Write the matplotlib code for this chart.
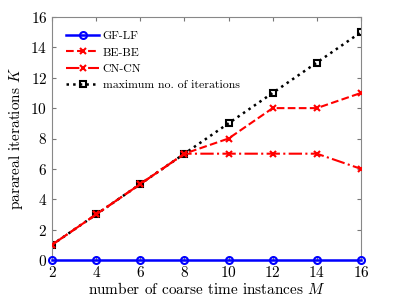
import matplotlib
matplotlib.use("Agg")
import matplotlib.pyplot as plt

plt.rcParams['font.family'] = 'serif'
plt.rcParams['font.serif'] = ['cmr10']
plt.rcParams['mathtext.fontset'] = 'cm'
plt.rcParams['axes.formatter.use_mathtext'] = True

M = [2, 4, 6, 8, 10, 12, 14, 16]
gf_lf = [0, 0, 0, 0, 0, 0, 0, 0]
be_be = [1, 3, 5, 7, 8, 10, 10, 11]
cn_cn = [1, 3, 5, 7, 7, 7, 7, 6]
max_it = [1, 3, 5, 7, 9, 11, 13, 15]

fig = plt.figure(figsize=(3.99, 2.99), dpi=100)
ax = fig.add_axes([52/399, 1 - 260/299, (361-52)/399, (260-17)/299])

ax.plot(M, max_it, ':', color='black', lw=1.8, marker='s', ms=4.5, mfc='none', mew=1.5, label='maximum no. of iterations', zorder=2)
ax.plot(M, cn_cn, '-.', color='red', lw=1.5, marker='x', ms=4, mew=1.5, label='CN-CN', zorder=3)
ax.plot(M, be_be, '--', color='red', lw=1.5, marker='x', ms=4, mew=1.5, label='BE-BE', zorder=3)
ax.plot(M, gf_lf, '-', color='blue', lw=1.8, marker='o', ms=5, mfc='none', mew=1.5, label='GF-LF', zorder=4, clip_on=False)

ax.set_xlim(2, 16)
ax.set_ylim(0, 16)
ax.set_xticks(range(2, 17, 2))
ax.set_yticks(range(0, 17, 2))
ax.tick_params(direction='in', top=True, right=True, labelsize=11, length=3, color='#777777')
for s in ax.spines.values():
    s.set_color('#888888')
    s.set_linewidth(0.8)
ax.set_xlabel('number of coarse time instances $M$', fontsize=11, labelpad=1)
ax.set_ylabel('parareal iterations $K$', fontsize=11)

h, l = ax.get_legend_handles_labels()
order = [3, 2, 1, 0]
ax.legend([h[i] for i in order], [l[i] for i in order], loc='upper left', frameon=False, fontsize=8.5,
          handlelength=2.8, borderaxespad=0.8, labelspacing=0.5, handletextpad=0.3)

fig.savefig('out.png', dpi=100)
